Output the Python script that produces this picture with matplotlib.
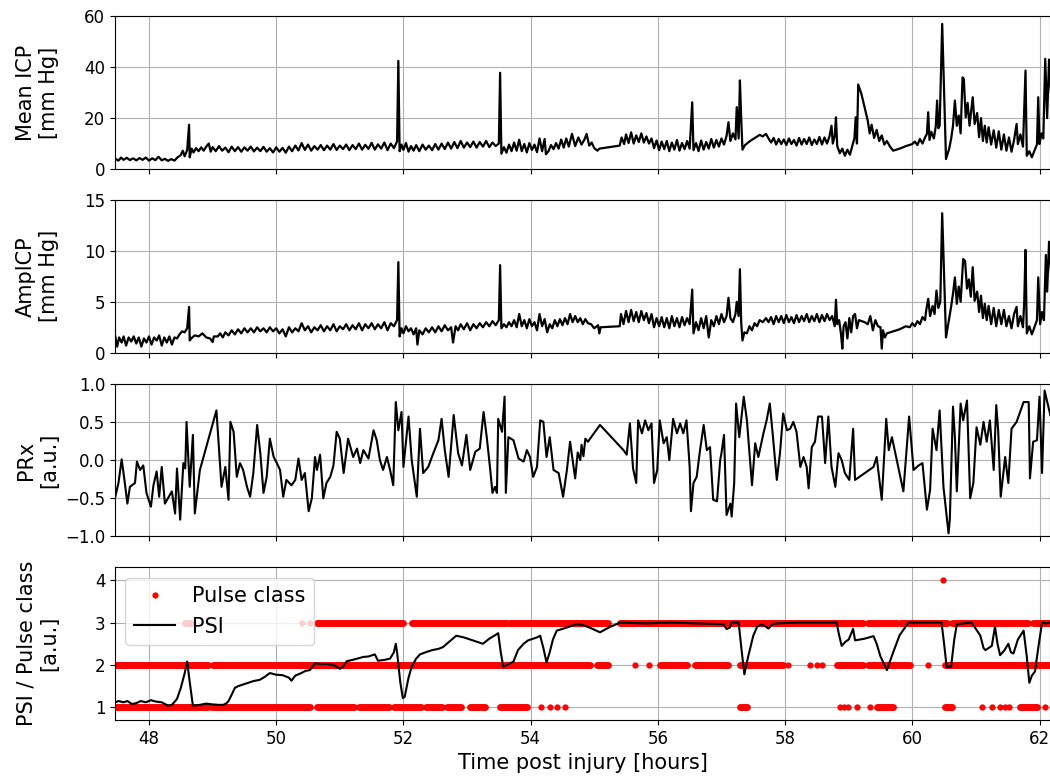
import matplotlib
matplotlib.use('Agg')
import matplotlib.pyplot as plt

# Mean ICP [mm Hg]
icp_t = [47.47, 47.52, 47.56, 47.6, 47.65, 47.7, 47.75, 47.8, 47.85, 47.9, 47.95, 48.0, 48.05, 48.1, 48.15, 48.2,
         48.25, 48.3, 48.35, 48.4, 48.45, 48.5, 48.53, 48.56, 48.6, 48.63, 48.64, 48.67, 48.7, 48.74, 48.78, 48.82,
         48.86, 48.9, 48.94, 48.97, 49.0, 49.05, 49.1, 49.15, 49.2, 49.25, 49.3, 49.35, 49.4, 49.45, 49.5, 49.55,
         49.6, 49.65, 49.7, 49.75, 49.8, 49.85, 49.9, 49.95, 50.0, 50.05, 50.1, 50.15, 50.2, 50.25, 50.3, 50.35,
         50.4, 50.45, 50.5, 50.55, 50.6, 50.65, 50.7, 50.75, 50.8, 50.85, 50.9, 50.95, 51.0, 51.05, 51.1, 51.15,
         51.2, 51.25, 51.3, 51.35, 51.4, 51.45, 51.5, 51.55, 51.6, 51.65, 51.7, 51.75, 51.8, 51.85, 51.9, 51.92,
         51.94, 51.97, 52.0, 52.04, 52.08, 52.12, 52.16, 52.2, 52.25, 52.3, 52.35, 52.4, 52.45, 52.5, 52.55, 52.6,
         52.65, 52.7, 52.75, 52.8, 52.85, 52.9, 52.95, 53.0, 53.05, 53.1, 53.15, 53.2, 53.25, 53.3, 53.35, 53.4,
         53.45, 53.5, 53.52, 53.54, 53.58, 53.62, 53.66, 53.7, 53.74, 53.78, 53.82, 53.86, 53.9, 53.94, 53.98, 54.02,
         54.06, 54.1, 54.14, 54.18, 54.22, 54.24, 54.28, 54.32, 54.36, 54.4, 54.44, 54.48, 54.52, 54.56, 54.6, 54.65,
         54.7, 54.75, 54.8, 54.85, 54.88, 54.92, 54.96, 55.0, 55.05, 55.08, 55.4, 55.43, 55.47, 55.5, 55.54, 55.58,
         55.62, 55.66, 55.7, 55.74, 55.78, 55.82, 55.86, 55.9, 55.94, 55.98, 56.02, 56.06, 56.1, 56.14, 56.18, 56.22,
         56.26, 56.3, 56.34, 56.38, 56.42, 56.46, 56.5, 56.54, 56.56, 56.6, 56.64, 56.68, 56.72, 56.76, 56.8, 56.84,
         56.88, 56.92, 56.96, 57.0, 57.04, 57.08, 57.11, 57.14, 57.18, 57.22, 57.24, 57.27, 57.29, 57.31, 57.33, 57.37,
         57.41, 57.45, 57.5, 57.55, 57.6, 57.65, 57.7, 57.74, 57.78, 57.82, 57.86, 57.9, 57.94, 57.98, 58.02, 58.06,
         58.1, 58.14, 58.18, 58.22, 58.26, 58.3, 58.34, 58.38, 58.42, 58.46, 58.5, 58.54, 58.58, 58.62, 58.66, 58.7,
         58.73, 58.75, 58.78, 58.8, 58.82, 58.86, 58.9, 58.94, 58.98, 59.02, 59.06, 59.09, 59.11, 59.13, 59.15, 59.2,
         59.3, 59.33, 59.36, 59.4, 59.44, 59.48, 59.52, 59.56, 59.6, 59.65, 59.7, 59.8, 59.9, 60.0, 60.04, 60.08,
         60.12, 60.16, 60.2, 60.23, 60.25, 60.27, 60.3, 60.34, 60.37, 60.39, 60.41, 60.43, 60.47, 60.53, 60.58, 60.61,
         60.64, 60.67, 60.7, 60.73, 60.76, 60.79, 60.81, 60.84, 60.87, 60.9, 60.95, 60.98, 61.02, 61.05, 61.08, 61.11,
         61.14, 61.17, 61.2, 61.24, 61.28, 61.32, 61.36, 61.4, 61.44, 61.48, 61.52, 61.56, 61.6, 61.64, 61.66, 61.7,
         61.74, 61.78, 61.8, 61.84, 61.88, 61.92, 61.96, 61.98, 62.0, 62.03, 62.06, 62.09, 62.12, 62.15, 62.18]
icp_v = [4.0, 3.3, 4.5, 3.6, 4.4, 3.5, 4.2, 3.4, 4.3, 3.6, 4.5, 3.3, 4.2, 3.5, 4.8, 3.4,
         4.0, 3.2, 3.9, 3.3, 4.6, 5.5, 7.2, 5.0, 7.5, 17.4, 4.6, 8.0, 6.5, 8.2, 7.0, 8.5,
         7.2, 8.8, 10.0, 6.8, 8.6, 7.0, 9.0, 7.2, 8.4, 6.6, 8.8, 7.0, 8.6, 6.8, 8.5, 7.2,
         8.8, 6.9, 8.4, 7.0, 8.7, 6.8, 8.2, 6.5, 8.5, 6.8, 8.3, 6.4, 8.8, 7.0, 9.2, 7.3,
         10.2, 7.5, 9.6, 7.2, 9.0, 7.6, 9.4, 7.4, 9.2, 7.6, 9.8, 7.5, 9.2, 7.8, 9.6, 7.4,
         9.4, 7.8, 10.0, 7.6, 9.5, 7.9, 10.3, 7.6, 9.7, 8.0, 10.4, 7.4, 10.0, 8.2, 10.8, 42.5,
         7.0, 9.6, 7.5, 10.2, 6.8, 9.0, 7.2, 9.4, 7.0, 9.6, 7.6, 9.2, 7.4, 9.8, 7.6, 10.0,
         7.8, 10.4, 8.0, 10.6, 8.2, 11.0, 8.4, 10.4, 8.6, 10.8, 8.4, 10.6, 8.8, 11.0, 8.6, 10.4,
         9.0, 10.0, 37.8, 6.0, 8.6, 6.4, 9.6, 7.0, 10.4, 7.2, 11.5, 7.0, 9.8, 6.5, 10.2, 7.5,
         9.6, 6.6, 12.0, 7.0, 11.8, 5.8, 7.0, 9.4, 7.8, 10.2, 8.0, 11.6, 8.4, 12.0, 8.8, 13.8,
         9.0, 12.4, 9.6, 11.8, 13.8, 9.2, 10.4, 8.2, 7.2, 8.0, 9.2, 12.4, 9.8, 13.6, 10.2, 14.4,
         10.0, 13.2, 10.6, 14.0, 10.4, 12.8, 10.0, 12.0, 8.2, 11.2, 7.4, 10.8, 7.8, 11.0, 7.0, 10.4,
         7.6, 11.4, 7.2, 10.2, 7.8, 11.0, 8.0, 26.2, 7.4, 10.2, 7.0, 11.2, 7.6, 10.6, 8.0, 11.8,
         8.4, 11.4, 8.8, 12.0, 9.6, 13.0, 18.4, 11.0, 14.0, 11.6, 24.3, 12.0, 34.8, 20.0, 7.6, 9.4,
         10.2, 11.0, 11.8, 12.6, 13.4, 12.8, 13.8, 12.0, 10.4, 12.2, 9.6, 11.8, 9.8, 11.6, 9.4, 12.0,
         9.8, 11.4, 9.2, 12.2, 9.6, 11.8, 9.8, 12.4, 9.4, 11.6, 9.8, 12.6, 9.6, 12.4, 10.0, 13.0,
         17.0, 10.0, 13.0, 20.3, 9.0, 6.2, 8.0, 5.2, 7.6, 5.6, 9.4, 12.0, 20.3, 10.0, 33.2, 29.5,
         19.0, 14.0, 17.4, 12.2, 15.4, 11.0, 13.2, 9.6, 11.0, 8.8, 7.2, 8.0, 9.0, 9.8, 10.8, 9.4,
         11.8, 10.0, 12.4, 13.8, 22.3, 11.4, 14.6, 12.0, 17.0, 26.9, 16.0, 17.0, 57.0, 3.9, 8.0, 11.8,
         17.0, 26.9, 17.0, 21.0, 14.0, 36.0, 35.4, 20.3, 26.0, 17.0, 28.2, 17.7, 22.0, 12.5, 20.0, 11.0,
         17.0, 10.4, 16.4, 9.6, 15.2, 8.4, 14.8, 7.6, 13.6, 7.2, 12.4, 6.8, 11.4, 17.7, 9.8, 13.6,
         8.8, 38.7, 5.2, 7.0, 4.6, 7.2, 9.6, 28.2, 9.8, 14.0, 12.0, 43.3, 20.0, 43.0, 30.0]

# AmpICP [mm Hg]
amp_t = [47.47, 47.5, 47.53, 47.57, 47.6, 47.64, 47.68, 47.72, 47.76, 47.8, 47.84, 47.88, 47.92, 47.96, 48.0, 48.04,
         48.08, 48.12, 48.16, 48.2, 48.24, 48.28, 48.32, 48.36, 48.4, 48.44, 48.48, 48.52, 48.56, 48.6, 48.63, 48.64,
         48.68, 48.72, 48.78, 48.84, 48.9, 48.96, 49.0, 49.02, 49.08, 49.12, 49.16, 49.2, 49.25, 49.3, 49.35, 49.4,
         49.45, 49.5, 49.55, 49.6, 49.65, 49.7, 49.75, 49.8, 49.85, 49.9, 49.95, 50.0, 50.05, 50.1, 50.15, 50.2,
         50.25, 50.3, 50.35, 50.4, 50.45, 50.5, 50.55, 50.6, 50.65, 50.7, 50.75, 50.8, 50.85, 50.9, 50.95, 51.0,
         51.05, 51.1, 51.15, 51.2, 51.25, 51.3, 51.35, 51.4, 51.45, 51.5, 51.55, 51.6, 51.65, 51.7, 51.75, 51.8,
         51.85, 51.9, 51.92, 51.94, 51.97, 52.0, 52.04, 52.08, 52.12, 52.16, 52.2, 52.22, 52.25, 52.3, 52.35, 52.4,
         52.45, 52.5, 52.55, 52.6, 52.65, 52.7, 52.75, 52.78, 52.82, 52.86, 52.9, 52.95, 53.0, 53.05, 53.1, 53.15,
         53.2, 53.25, 53.3, 53.35, 53.4, 53.45, 53.5, 53.52, 53.54, 53.58, 53.62, 53.66, 53.7, 53.74, 53.78, 53.82,
         53.86, 53.9, 53.94, 53.98, 54.02, 54.06, 54.1, 54.14, 54.18, 54.22, 54.26, 54.3, 54.34, 54.38, 54.42, 54.46,
         54.5, 54.54, 54.58, 54.62, 54.66, 54.7, 54.74, 54.78, 54.82, 54.86, 54.9, 54.95, 55.0, 55.06, 55.08, 55.1,
         55.4, 55.42, 55.46, 55.5, 55.54, 55.58, 55.62, 55.66, 55.7, 55.74, 55.78, 55.82, 55.86, 55.9, 55.94, 55.98,
         56.02, 56.06, 56.1, 56.14, 56.18, 56.22, 56.26, 56.3, 56.34, 56.38, 56.42, 56.46, 56.5, 56.54, 56.56, 56.6,
         56.64, 56.68, 56.72, 56.76, 56.8, 56.84, 56.88, 56.92, 56.96, 57.0, 57.04, 57.08, 57.11, 57.14, 57.18, 57.22,
         57.24, 57.27, 57.29, 57.31, 57.33, 57.36, 57.4, 57.44, 57.48, 57.52, 57.56, 57.6, 57.65, 57.7, 57.74, 57.78,
         57.82, 57.86, 57.9, 57.94, 57.98, 58.02, 58.06, 58.1, 58.14, 58.18, 58.22, 58.26, 58.3, 58.34, 58.38, 58.42,
         58.46, 58.5, 58.54, 58.58, 58.62, 58.66, 58.7, 58.74, 58.78, 58.8, 58.82, 58.85, 58.88, 58.9, 58.92, 58.95,
         58.98, 59.01, 59.04, 59.07, 59.1, 59.13, 59.16, 59.25, 59.3, 59.34, 59.38, 59.42, 59.46, 59.5, 59.52, 59.54,
         59.57, 59.6, 59.7, 59.8, 59.9, 59.96, 60.0, 60.04, 60.08, 60.12, 60.16, 60.2, 60.22, 60.25, 60.28, 60.32,
         60.35, 60.38, 60.41, 60.44, 60.47, 60.53, 60.57, 60.61, 60.64, 60.67, 60.7, 60.73, 60.76, 60.8, 60.83, 60.86,
         60.89, 60.92, 60.95, 60.98, 61.02, 61.05, 61.08, 61.11, 61.14, 61.17, 61.2, 61.24, 61.28, 61.32, 61.36, 61.4,
         61.44, 61.48, 61.52, 61.56, 61.6, 61.64, 61.66, 61.7, 61.74, 61.76, 61.78, 61.8, 61.84, 61.88, 61.92, 61.96,
         61.98, 62.01, 62.04, 62.07, 62.1, 62.12, 62.15, 62.18]
amp_v = [1.6, 0.6, 1.5, 1.0, 1.6, 0.7, 1.5, 1.1, 1.6, 0.9, 1.5, 0.6, 1.4, 1.0, 1.6, 0.8,
         1.5, 1.2, 1.7, 0.7, 1.5, 1.0, 1.6, 0.8, 1.5, 1.4, 1.8, 2.1, 2.0, 2.4, 4.5, 1.2,
         1.5, 1.7, 1.6, 1.9, 1.5, 1.4, 1.05, 1.6, 1.6, 1.9, 1.5, 2.0, 1.7, 2.2, 1.8, 2.3,
         1.9, 2.4, 2.0, 2.4, 2.0, 2.5, 2.1, 2.4, 2.0, 2.5, 2.1, 2.4, 1.9, 2.3, 1.6, 2.5,
         2.0, 2.4, 2.1, 2.9, 2.2, 2.6, 2.0, 2.5, 2.2, 2.7, 2.1, 2.6, 2.2, 2.8, 2.1, 2.6,
         2.3, 2.8, 2.2, 2.7, 2.3, 2.9, 2.2, 2.8, 2.4, 2.9, 2.3, 2.8, 2.4, 3.0, 2.2, 2.9,
         2.6, 3.2, 8.9, 1.6, 2.4, 1.9, 2.6, 2.1, 2.4, 1.8, 2.4, 0.8, 2.2, 1.8, 2.4, 2.0,
         2.5, 2.0, 2.6, 2.1, 2.7, 2.2, 2.5, 1.0, 2.6, 2.2, 2.8, 2.3, 2.9, 2.2, 2.8, 2.4,
         2.9, 2.5, 3.0, 2.6, 3.1, 2.7, 3.2, 8.6, 2.4, 2.8, 2.5, 3.0, 2.6, 3.2, 2.5, 3.8,
         2.6, 3.2, 2.4, 3.3, 2.6, 3.0, 2.2, 3.8, 2.6, 3.3, 2.0, 2.8, 2.4, 3.2, 2.6, 3.3,
         2.7, 3.4, 2.8, 3.8, 3.0, 3.6, 3.0, 3.4, 2.8, 3.3, 2.9, 2.8, 2.4, 2.7, 1.9, 2.5,
         2.6, 3.8, 2.8, 4.1, 3.0, 4.2, 3.1, 4.0, 3.0, 4.1, 3.2, 3.9, 2.9, 3.8, 2.5, 3.4,
         2.6, 3.5, 2.5, 3.4, 2.4, 3.6, 2.6, 3.4, 2.5, 3.5, 2.7, 3.4, 2.8, 6.2, 1.9, 3.0,
         2.2, 3.4, 2.4, 3.6, 1.5, 3.2, 2.6, 3.6, 2.8, 3.8, 3.0, 3.6, 5.4, 3.4, 3.0, 3.8,
         5.0, 3.6, 8.2, 3.0, 1.2, 2.0, 1.9, 2.6, 2.2, 2.9, 2.6, 3.2, 3.0, 3.4, 3.0, 3.5,
         2.8, 3.6, 3.0, 3.6, 2.9, 3.7, 3.0, 3.5, 2.9, 3.7, 3.0, 3.6, 3.1, 3.8, 3.0, 3.6,
         3.1, 3.8, 3.0, 3.7, 3.1, 3.8, 3.2, 3.6, 2.6, 5.2, 2.8, 3.2, 1.8, 0.4, 2.6, 3.0,
         1.4, 3.4, 2.0, 3.6, 3.8, 2.4, 3.2, 3.0, 2.8, 3.6, 2.2, 3.2, 2.6, 2.5, 0.4, 2.2,
         1.5, 1.9, 2.1, 2.3, 2.6, 2.5, 2.9, 2.6, 3.1, 2.8, 3.5, 3.2, 4.2, 5.3, 3.6, 4.6,
         3.8, 6.1, 4.4, 5.0, 13.7, 1.5, 3.0, 4.5, 5.8, 7.4, 4.8, 6.5, 5.0, 9.2, 9.0, 6.3,
         7.2, 5.5, 8.4, 5.1, 6.0, 4.0, 5.6, 3.4, 4.8, 3.2, 4.6, 2.8, 4.4, 2.6, 4.2, 2.8,
         4.2, 2.6, 3.6, 2.4, 3.8, 4.5, 2.6, 3.6, 2.5, 5.0, 10.1, 1.9, 2.6, 1.8, 2.5, 3.2,
         7.4, 2.8, 4.0, 3.2, 9.6, 6.0, 10.9, 8.0]

# PRx [a.u.]
prx_t = [47.47, 47.52, 47.57, 47.62, 47.66, 47.70, 47.78, 47.81, 47.86, 47.91, 47.96, 48.03, 48.07, 48.12, 48.16,
         48.20, 48.25, 48.36, 48.41, 48.44, 48.49, 48.54, 48.57, 48.59, 48.64, 48.69, 48.72, 48.80, 49.06, 49.14,
         49.20, 49.25, 49.28, 49.33, 49.38, 49.43, 49.48, 49.54, 49.59, 49.64, 49.70, 49.75, 49.80, 49.85, 49.90,
         49.96, 50.01, 50.06, 50.11, 50.16, 50.24, 50.30, 50.35, 50.40, 50.45, 50.51, 50.56, 50.61, 50.64, 50.69,
         50.74, 50.79, 50.85, 50.90, 50.95, 51.00, 51.06, 51.13, 51.21, 51.27, 51.32, 51.37, 51.45, 51.53, 51.58,
         51.63, 51.68, 51.74, 51.79, 51.84, 51.88, 51.92, 51.97, 52.00, 52.08, 52.13, 52.21, 52.26, 52.31, 52.39,
         52.47, 52.55, 52.60, 52.65, 52.71, 52.79, 52.86, 52.92, 52.99, 53.05, 53.13, 53.20, 53.26, 53.31, 53.36,
         53.40, 53.44, 53.47, 53.49, 53.55, 53.59, 53.61, 53.65, 53.73, 53.81, 53.89, 53.94, 53.99, 54.04, 54.10,
         54.15, 54.20, 54.25, 54.30, 54.36, 54.44, 54.51, 54.57, 54.62, 54.70, 54.74, 54.78, 54.80, 54.83, 54.86,
         54.90, 55.09, 55.46, 55.51, 55.56, 55.61, 55.66, 55.69, 55.75, 55.80, 55.85, 55.90, 55.94, 55.99, 56.03,
         56.09, 56.14, 56.18, 56.24, 56.30, 56.35, 56.40, 56.45, 56.50, 56.52, 56.56, 56.61, 56.66, 56.72, 56.77,
         56.82, 56.87, 56.93, 56.98, 57.00, 57.04, 57.08, 57.14, 57.16, 57.20, 57.23, 57.28, 57.35, 57.40, 57.44,
         57.48, 57.53, 57.58, 57.66, 57.71, 57.76, 57.81, 57.87, 57.92, 57.97, 58.03, 58.08, 58.13, 58.18, 58.24,
         58.29, 58.34, 58.37, 58.42, 58.47, 58.52, 58.58, 58.63, 58.68, 58.73, 58.79, 58.84, 58.89, 58.94, 59.01,
         59.07, 59.10, 59.39, 59.44, 59.52, 59.59, 59.63, 59.68, 59.86, 59.95, 60.02, 60.10, 60.16, 60.23, 60.28,
         60.32, 60.38, 60.43, 60.49, 60.57, 60.59, 60.64, 60.67, 60.70, 60.76, 60.80, 60.86, 60.91, 60.96, 61.01,
         61.07, 61.12, 61.17, 61.22, 61.28, 61.32, 61.35, 61.39, 61.46, 61.51, 61.56, 61.64, 61.75, 61.83, 61.85,
         61.90, 61.96, 62.00, 62.04, 62.08, 62.14, 62.17]
prx_v = [-0.48, -0.3, 0.01, -0.30, -0.57, -0.35, -0.30, -0.02, -0.13, -0.07, -0.43, -0.61, -0.33, -0.15, -0.48,
         -0.09, -0.57, -0.41, -0.70, -0.11, -0.78, -0.04, -0.11, 0.50, -0.35, 0.33, -0.70, -0.13, 0.65, -0.35,
         -0.09, -0.52, 0.50, 0.37, -0.22, -0.04, -0.13, -0.35, -0.48, -0.17, 0.46, 0.09, -0.43, -0.22, 0.28,
         0.04, -0.04, -0.13, -0.48, -0.26, -0.33, -0.26, 0.02, -0.26, -0.17, -0.67, -0.50, 0.04, -0.13, 0.07,
         -0.50, -0.30, -0.22, -0.07, 0.37, 0.28, -0.17, 0.28, 0.04, 0.15, -0.04, 0.13, 0.02, 0.39, 0.26,
         0.0, -0.13, 0.04, -0.13, -0.33, 0.76, 0.39, 0.63, -0.09, 0.57, 0.0, -0.48, 0.41, -0.17, -0.09,
         0.09, 0.26, 0.54, 0.13, -0.22, 0.59, 0.09, -0.07, 0.33, -0.13, 0.11, 0.15, 0.63, 0.30, -0.09,
         -0.43, -0.35, -0.43, 0.54, 0.37, 0.83, -0.43, 0.30, 0.26, 0.02, -0.02, 0.13, 0.04, -0.22, -0.09,
         0.52, 0.50, 0.04, 0.30, -0.13, -0.17, -0.48, -0.13, 0.24, -0.24, 0.10, 0.0, 0.20, 0.05, 0.28,
         0.24, 0.46, 0.13, 0.07, 0.48, -0.11, -0.30, 0.52, 0.35, 0.52, 0.39, 0.48, -0.30, -0.13, 0.52,
         0.22, 0.30, 0.0, 0.54, 0.35, 0.48, 0.35, 0.52, -0.09, -0.67, -0.30, -0.22, 0.11, 0.46, 0.13,
         0.17, -0.52, -0.54, 0.0, 0.09, 0.33, -0.72, -0.57, -0.74, -0.30, 0.74, 0.30, 0.83, 0.52, 0.09,
         -0.33, 0.22, 0.04, 0.35, 0.52, 0.74, 0.30, -0.26, 0.09, 0.61, 0.39, 0.41, 0.50, 0.37, -0.09,
         0.04, -0.09, -0.37, 0.17, 0.24, 0.57, 0.57, -0.04, 0.57, -0.09, -0.35, 0.09, 0.0, -0.17, -0.26,
         0.41, -0.26, -0.09, 0.04, -0.52, 0.54, 0.13, 0.30, -0.41, 0.57, -0.13, -0.07, -0.04, -0.65, -0.39,
         0.41, 0.13, 0.65, -0.35, -0.96, -0.78, 0.70, 0.30, -0.41, 0.74, 0.52, 0.78, -0.50, -0.30, 0.43,
         0.20, 0.50, 0.24, 0.52, -0.13, 0.72, 0.39, -0.48, 0.04, -0.30, 0.41, 0.50, 0.76, 0.76, -0.24,
         0.24, 0.26, 0.83, -0.17, 0.91, 0.70, 0.59]

# PSI [a.u.]
psi_t = [47.47, 47.52, 47.6, 47.66, 47.73, 47.8, 47.87, 47.95, 48.03, 48.1, 48.2, 48.3, 48.36, 48.44, 48.5, 48.56,
         48.6, 48.64, 48.69, 48.8, 48.9, 49.0, 49.1, 49.17, 49.22, 49.25, 49.3, 49.35, 49.4, 49.48, 49.56, 49.64,
         49.74, 49.82, 49.9, 50.0, 50.1, 50.2, 50.24, 50.3, 50.38, 50.46, 50.53, 50.61, 50.7, 50.8, 50.9, 51.0,
         51.05, 51.11, 51.2, 51.3, 51.37, 51.45, 51.55, 51.6, 51.7, 51.79, 51.85, 51.88, 51.9, 51.95, 51.99, 52.02,
         52.08, 52.13, 52.2, 52.26, 52.35, 52.45, 52.55, 52.62, 52.72, 52.83, 52.95, 53.05, 53.15, 53.25, 53.35, 53.44,
         53.49, 53.53, 53.57, 53.65, 53.73, 53.8, 53.89, 53.96, 54.04, 54.1, 54.15, 54.2, 54.25, 54.3, 54.35, 54.41,
         54.5, 54.6, 54.72, 54.8, 54.93, 55.09, 55.25, 55.41, 55.8, 56.2, 56.6, 57.03, 57.08, 57.13, 57.16, 57.27,
         57.32, 57.36, 57.42, 57.5, 57.56, 57.63, 57.7, 57.74, 57.8, 57.87, 58.2, 58.5, 58.81, 58.85, 58.89, 58.95,
         59.0, 59.07, 59.1, 59.25, 59.39, 59.44, 59.5, 59.6, 59.7, 59.8, 59.94, 60.2, 60.46, 60.5, 60.54, 60.61,
         60.66, 60.7, 60.8, 60.93, 61.0, 61.07, 61.12, 61.15, 61.2, 61.25, 61.3, 61.34, 61.38, 61.45, 61.51, 61.55,
         61.59, 61.66, 61.75, 61.8, 61.84, 61.88, 61.93, 61.98, 62.04, 62.1, 62.17]
psi_v = [1.12, 1.15, 1.12, 1.15, 1.08, 1.1, 1.15, 1.12, 1.17, 1.14, 1.12, 1.04, 1.06, 1.2, 1.46, 1.8,
         2.08, 1.6, 1.04, 1.06, 1.09, 1.07, 1.06, 1.06, 1.1, 1.15, 1.3, 1.46, 1.5, 1.54, 1.58, 1.62,
         1.65, 1.72, 1.81, 1.77, 1.76, 1.7, 1.63, 1.75, 1.8, 1.86, 1.88, 2.04, 2.02, 2.02, 2.0, 1.91,
         1.96, 2.09, 2.12, 2.16, 2.19, 2.2, 2.25, 2.1, 2.12, 2.15, 2.3, 2.5, 2.3, 1.6, 1.22, 1.25,
         1.7, 1.96, 2.15, 2.25, 2.3, 2.35, 2.38, 2.42, 2.55, 2.69, 2.65, 2.6, 2.55, 2.5, 2.62, 2.7,
         2.75, 2.3, 1.96, 2.02, 2.08, 2.35, 2.5, 2.58, 2.62, 2.65, 2.69, 2.4, 2.06, 2.3, 2.6, 2.81,
         2.85, 2.9, 2.96, 2.95, 2.88, 2.77, 2.9, 3.0, 2.98, 3.0, 2.98, 2.96, 2.85, 2.88, 3.0, 3.0,
         2.3, 1.78, 2.2, 2.69, 2.9, 2.96, 2.9, 2.86, 2.96, 2.98, 3.0, 3.0, 3.0, 2.7, 2.45, 2.55,
         2.6, 2.85, 2.58, 2.62, 2.68, 2.5, 2.2, 1.88, 2.3, 2.7, 3.0, 3.0, 3.0, 2.5, 1.96, 1.96,
         2.6, 2.96, 2.98, 3.0, 2.85, 2.69, 2.4, 2.35, 2.4, 2.45, 2.9, 2.5, 2.23, 2.35, 2.5, 2.3,
         2.27, 2.6, 2.81, 2.2, 1.58, 1.75, 1.85, 2.4, 3.0, 2.98, 3.0]

# Pulse class: dense runs (class, start, end) and isolated pulses
run_class = [1, 1, 1, 1, 1, 1, 1, 1, 1, 1, 1, 1, 1,
             2, 2, 2, 2, 2, 2, 2, 2, 2, 2,
             3, 3, 3, 3, 3, 3, 3, 3, 3, 3]
run_start = [47.48, 48.99, 50.64, 51.3, 51.85, 52.35, 52.68, 53.05, 53.52, 57.29, 59.45, 60.52, 61.69,
             47.48, 49.0, 55.04, 56.03, 56.59, 57.29, 58.82, 59.3, 60.52, 61.35,
             50.64, 52.13, 53.68, 54.96, 55.41, 59.3, 59.81, 60.63, 61.9, 48.57]
run_end = [48.93, 50.53, 51.22, 51.78, 52.28, 52.6, 52.9, 53.28, 53.94, 57.4, 59.7, 60.63, 61.96,
           48.93, 54.93, 55.22, 56.46, 57.1, 57.97, 59.23, 59.96, 62.17, 61.59,
           51.99, 53.63, 54.93, 55.22, 59.23, 59.76, 60.55, 61.82, 62.17, 48.68]
dot_t = [54.17, 54.3, 54.41, 54.54, 58.86, 58.92, 58.99, 59.13, 59.34, 61.09, 61.25, 61.38, 61.45, 61.52, 62.09,
         55.64, 55.86, 58.05, 58.39, 58.5, 58.58, 60.25,
         50.4, 50.53,
         60.48]
dot_class = [1, 1, 1, 1, 1, 1, 1, 1, 1, 1, 1, 1, 1, 1, 1,
             2, 2, 2, 2, 2, 2, 2,
             3, 3,
             4]

fig, axes = plt.subplots(4, 1, sharex=True, figsize=(10.5, 7.76), dpi=100)
fig.subplots_adjust(left=0.1095, right=1.0, top=0.979, bottom=0.072, hspace=0.203)

ax1, ax2, ax3, ax4 = axes
ax1.plot(icp_t, icp_v, color='black', linewidth=1.6)
ax1.set_ylim(0, 60)
ax1.set_yticks([0, 20, 40, 60])
ax1.set_ylabel('Mean ICP\n[mm Hg]')

ax2.plot(amp_t, amp_v, color='black', linewidth=1.6)
ax2.set_ylim(0, 15)
ax2.set_yticks([0, 5, 10, 15])
ax2.set_ylabel('AmplCP\n[mm Hg]')

ax3.plot(prx_t, prx_v, color='black', linewidth=1.5)
ax3.set_ylim(-1, 1)
ax3.set_yticks([-1.0, -0.5, 0.0, 0.5, 1.0])
ax3.set_ylabel('PRx\n[a.u.]')

# pulse class runs: a thick round-capped line looks like a row of dots
ax4.hlines(run_class, run_start, run_end, colors='red', linewidth=5, capstyle='round', zorder=2)
ax4.plot(dot_t, dot_class, '.', color='red', markersize=7, label='Pulse class', zorder=2)
ax4.plot(psi_t, psi_v, color='black', linewidth=1.5, label='PSI', zorder=3)
ax4.set_ylim(0.7, 4.3)
ax4.set_yticks([1, 2, 3, 4])
ax4.set_ylabel('PSI / Pulse class\n[a.u.]')
ax4.legend(loc='upper left', fontsize=15)
ax4.set_xlabel('Time post injury [hours]', fontsize=15)

ax4.set_xlim(47.465, 62.165)
ax4.set_xticks([48, 50, 52, 54, 56, 58, 60, 62])

for ax in axes:
    ax.grid(True)
    ax.tick_params(labelsize=12)
    ax.yaxis.label.set_size(15)
fig.align_ylabels(axes)

plt.savefig('out.png', dpi=100)
plt.close()
